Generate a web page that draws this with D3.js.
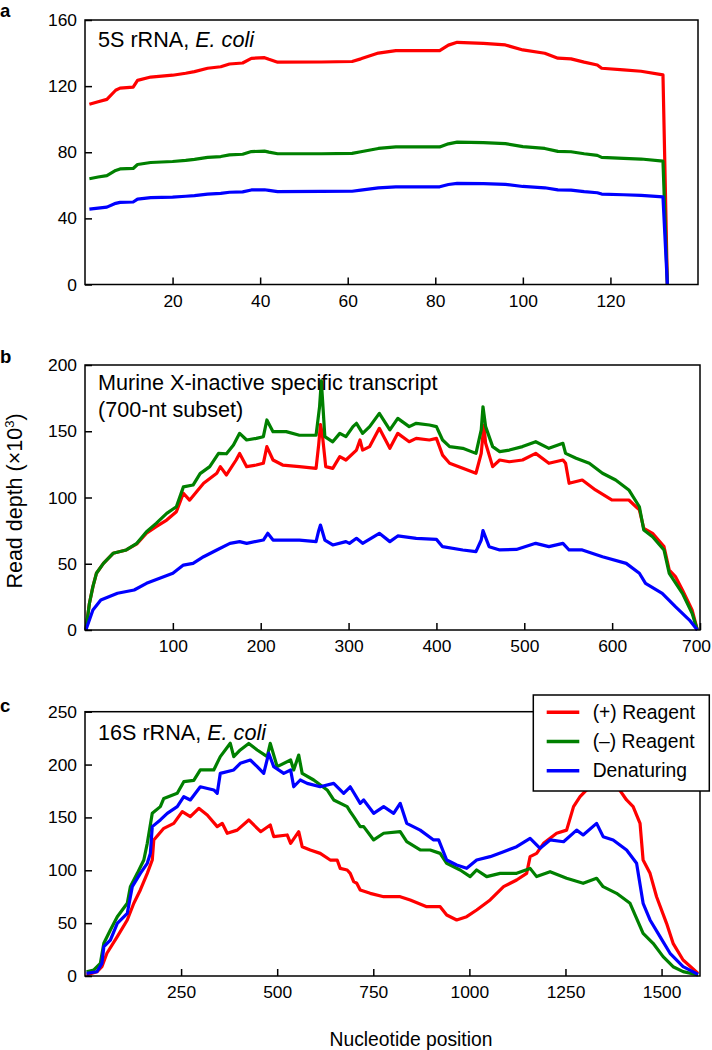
<!DOCTYPE html>
<html><head><meta charset="utf-8">
<script src="https://cdn.jsdelivr.net/npm/d3@7"></script>
<style>
html,body{margin:0;padding:0;background:#fff;}
text{font-family:"Liberation Sans",Arial,sans-serif;fill:#000;}
</style></head>
<body>
<svg id="chart" width="712" height="1050"></svg>
<script>
// ---------- DATA ----------
const seriesNames = ["(+) Reagent", "(\u2013) Reagent", "Denaturing"];
const seriesColors = ["#ff0000", "#008000", "#0000ff"];

// Panel a: 5S rRNA, E. coli
const aX = [1,3,5,7,8,11,12,15,20,23,25,28,31,33,36,38,41,42,44,54,61,63,67,71,81,83,85,91,96,100,105,108,111,114,117,118,123,127,132,133];
const aPlus = [109,110.5,112,117.5,118.8,119.4,123.5,125.5,126.6,127.8,128.8,130.8,131.7,133.4,134,136.8,137.2,136.2,134.5,134.6,134.9,136.5,140,141.5,141.5,144.8,146.5,145.9,144.9,141.9,139.9,136.9,136.5,134.5,132.8,130.8,129.8,129,126.8,0];
const aMinus = [64,65,65.9,69,69.9,70.2,72.6,73.8,74.4,75.1,75.7,76.9,77.4,78.4,78.8,80.4,80.7,80.1,79.1,79.1,79.3,80.3,82.3,83.2,83.2,85.1,86.1,85.8,85.2,83.4,82.3,80.5,80.3,79.1,78.1,76.9,76.3,75.9,74.6,0];
const aDen = [45.6,46.2,46.8,49.1,49.7,49.9,51.6,52.5,52.9,53.4,53.8,54.7,55.1,55.8,56,57.2,57.3,56.9,56.2,56.3,56.4,57.1,58.5,59.1,59.1,60.5,61.2,61,60.6,59.3,58.5,57.2,57.1,56.2,55.5,54.7,54.3,53.9,53,0];
const aXTicks = [20,40,60,80,100,120];
const aYTicks = [0,40,80,120,160];

// Panel b: Murine Xist (700-nt subset)
const bPlus = [[1,0],[5,20],[9,32.7],[13,42.8],[21,50.3],[32,57.9],[47,60.4],[59,65],[70,73],[81,78],[93,83],[104,89.3],[112,103.2],[119,98],[127,104.4],[135,110.7],[150,118.3],[154,123.3],[161,117],[172,128.3],[176,133.3],[184,123.3],[195,124.5],[203,125.8],[207,138.4],[214,128.3],[225,124.5],[244,123.3],[263,122],[266,140],[268,155],[270,148.4],[274,123.3],[282,122],[290,130.8],[297,128.3],[309,135.8],[313,143.4],[316,135.8],[324,138.4],[335,152.2],[347,137.1],[356,148.4],[369,142.1],[377,144.6],[392,143.4],[400,144.6],[407,132],[415,125.8],[430,122],[445,118.3],[451,133.3],[454,154.7],[456,140.9],[464,123.3],[472,128.3],[483,127],[498,128.3],[513,133.3],[528,125.8],[544,128.3],[547,125.8],[551,110.7],[566,113.2],[581,105.7],[600,98.1],[619,98.1],[631,90.6],[636,76.7],[646,73],[659,62.9],[665,45.3],[672,40.3],[680,30.2],[691,15.1],[697,0]];
const bMinus = [[1,0],[5,20],[9,32.7],[13,42.8],[21,50.3],[32,57.9],[47,60.4],[59,65.4],[70,74.2],[81,80.5],[93,88],[104,93],[112,108],[123,109.4],[131,118],[142,123.3],[152,133.3],[161,133],[169,139.6],[176,148.4],[184,143.4],[195,144.6],[203,145.9],[207,158.5],[214,149.7],[229,149.7],[244,147],[263,147],[267,168.6],[269,188],[273,145.9],[282,142],[290,148.4],[297,145.9],[305,153.5],[309,156],[316,148.4],[324,153.5],[335,163.5],[347,151],[356,159.7],[369,153.5],[377,156],[392,154.7],[400,153.5],[407,143.4],[415,138.4],[430,137.1],[445,133.3],[451,151],[453,168.5],[456,153.5],[464,138.4],[472,134.6],[483,135.8],[498,138.4],[513,142.1],[528,137.1],[544,140.9],[547,133.3],[559,129.6],[574,125.8],[589,118.3],[604,113.2],[619,105.7],[631,93],[636,75.5],[646,70.4],[659,60.4],[665,42.8],[680,27.7],[691,12.6],[697,0]];
const bDen = [[1,0],[9,15.1],[18,22.6],[37,27.7],[56,30.2],[70,35.2],[85,39],[100,42.8],[112,49],[123,50.3],[135,55.3],[150,60.4],[165,65.4],[176,66.7],[184,65.4],[203,67.9],[208,73],[214,67.9],[244,67.9],[263,66.7],[266,75],[268,79.2],[273,67.9],[282,64.2],[297,66.7],[301,65.4],[309,69.2],[316,65.4],[335,73],[347,66.7],[356,71],[377,69.2],[400,68.4],[407,62.9],[430,60.4],[445,59.1],[451,67.9],[453,75],[460,62.9],[472,60.4],[491,60.8],[513,65.4],[528,62.9],[544,65.4],[551,60.4],[566,60.4],[589,55.3],[616,50.3],[631,42.8],[638,35.2],[657,27.7],[672,17.6],[688,7.5],[697,0]];
const bXTicks = [100,200,300,400,500,600,700];
const bYTicks = [0,50,100,150,200];

// Panel c: 16S rRNA, E. coli
const cPlus = [[4,0.9],[31,4],[44,8.8],[57,21.5],[84,37.2],[110,53],[127,68.8],[144,81.4],[162,97.1],[175,109.7],[179,128.7],[205,139.7],[231,144.4],[253,155.5],[274,150.7],[296,158.6],[318,152.3],[344,141.3],[357,144.4],[370,135],[396,138],[426,147.6],[457,136.5],[482,142.8],[491,131.8],[526,133.4],[535,125.5],[556,136.5],[565,122.3],[586,119.2],[612,116],[638,109.7],[656,109.7],[664,101.8],[682,100.3],[690,97.1],[699,89.2],[707,87.7],[716,81.4],[742,78.2],[777,75],[820,75],[846,71.9],[889,65.6],[924,65.6],[941,57.7],[967,53],[993,56.1],[1019,62.4],[1054,71.9],[1089,84.5],[1123,90.8],[1149,97.1],[1158,112.9],[1175,116],[1193,125.5],[1227,135],[1253,138],[1271,160.2],[1288,169.6],[1305,176],[1340,182],[1383,180],[1409,166.5],[1426,160.2],[1444,144.4],[1452,109.7],[1470,97.1],[1487,75],[1513,49.8],[1530,30.9],[1556,15.1],[1595,2.5]];
const cMinus = [[4,4],[23,5.7],[40,12],[49,31],[66,43.5],[84,56],[110,68.8],[118,84.5],[136,97.1],[153,109.7],[162,125.5],[175,153.9],[196,160.2],[205,168],[240,172.8],[257,183.8],[283,185],[300,194.9],[335,194.9],[352,207.5],[378,220.1],[387,207.5],[404,213.8],[426,220],[448,213.8],[474,207.5],[482,220],[500,198],[535,204.3],[543,194.9],[556,209],[565,191.7],[595,185.4],[630,176],[647,166.5],[682,160.2],[690,155.5],[699,150.7],[716,141.3],[725,141.3],[751,128.7],[777,135],[820,136.6],[837,127],[872,119.2],[898,119.2],[924,116],[941,106.6],[976,100.3],[1002,94],[1019,100.3],[1045,94],[1080,97.1],[1123,97.1],[1158,101.8],[1175,94],[1210,98.7],[1253,92.4],[1296,87.7],[1331,92.4],[1348,84.5],[1383,78.2],[1418,68.8],[1452,40.4],[1478,30.9],[1504,18.3],[1530,8.8],[1556,4.1],[1595,1]];
const cDen = [[4,2.5],[31,4],[44,12],[49,27.7],[66,34],[84,49.8],[110,59.3],[123,84.5],[144,97.1],[162,106.6],[170,116],[175,141.3],[196,147.6],[214,153.9],[240,160.2],[257,169.6],[274,166.5],[300,179],[335,176],[344,172.8],[352,191.7],[387,194.9],[404,201.2],[430,204.3],[448,198],[465,191.7],[478,210.7],[491,198],[517,191.7],[535,194.9],[543,179],[560,185.4],[578,182.2],[612,179],[647,182.2],[673,172.8],[690,179],[716,163.3],[725,166.5],[751,153.9],[777,160.2],[803,153.9],[820,163.3],[837,144.4],[872,138],[907,128.7],[920,128.7],[941,109.7],[967,105],[993,101.9],[1019,109.7],[1054,112.9],[1089,117.6],[1123,122.3],[1158,130.2],[1184,120.8],[1210,128.7],[1245,127],[1279,138],[1296,133.4],[1331,144.4],[1348,131.8],[1374,128.7],[1409,119.2],[1435,106.6],[1452,68.8],[1470,53],[1496,37.2],[1522,21.5],[1556,8.8],[1595,1.5]];
const cXTicks = [250,500,750,1000,1250,1500];
const cYTicks = [0,50,100,150,200,250];

// ---------- DRAW ----------
const svg = d3.select("#chart");
const FONT = "Liberation Sans, Arial, sans-serif";

function panel(opts) {
  const {left, right, top, bottom, xDomain, yDomain, xTicks, yTicks, series, letter, letterY, titleLines, titleY} = opts;
  const x = d3.scaleLinear().domain(xDomain).range([left, right]);
  const y = d3.scaleLinear().domain(yDomain).range([bottom, top]);
  const g = svg.append("g");

  const line = d3.line().x(d => x(d[0])).y(d => y(d[1]));
  series.forEach((s, i) => {
    g.append("path").datum(s).attr("d", line)
      .attr("fill", "none").attr("stroke", seriesColors[i])
      .attr("stroke-width", 3.2).attr("stroke-linejoin", "round");
  });

  const ya = g.append("g").attr("transform", `translate(${left},0)`)
    .call(d3.axisLeft(y).tickValues(yTicks).tickFormat(d3.format("d")).tickSize(-7).tickPadding(8));
  const xa = g.append("g").attr("transform", `translate(0,${bottom})`)
    .call(d3.axisBottom(x).tickValues(xTicks).tickFormat(d3.format("d")).tickSize(-7).tickPadding(10));
  [ya, xa].forEach(a => {
    a.select(".domain").remove();
    a.selectAll(".tick line").attr("stroke", "#000").attr("stroke-width", 1.5);
    a.selectAll(".tick text").attr("font-size", 17.4).attr("font-family", FONT).attr("fill", "#000");
  });
  // keep a label that sits on the right frame edge inside the page
  xa.selectAll(".tick text").filter(d => x(d) + 15 > 712).attr("dx", -4);

  g.append("rect").attr("x", left).attr("y", top)
    .attr("width", right - left).attr("height", bottom - top)
    .attr("fill", "none").attr("stroke", "#000").attr("stroke-width", 1.5);

  svg.append("text").attr("x", 0).attr("y", letterY)
    .attr("font-size", 18.5).attr("font-weight", "bold").text(letter);

  titleLines.forEach((ln, i) => {
    const t = svg.append("text").attr("x", left + 13).attr("y", titleY + i * 27).attr("font-size", 21.6);
    ln.forEach(part => {
      t.append("tspan").attr("font-style", part.italic ? "italic" : "normal").text(part.t);
    });
  });
  return {x, y};
}

panel({
  left: 85, right: 698, top: 20, bottom: 284.5,
  xDomain: [0, 140], yDomain: [0, 160], xTicks: aXTicks, yTicks: aYTicks,
  series: [aX.map((v, i) => [v, aPlus[i]]), aX.map((v, i) => [v, aMinus[i]]), aX.map((v, i) => [v, aDen[i]])],
  letter: "a", letterY: 17,
  titleLines: [[{t: "5S rRNA, "}, {t: "E. coli", italic: true}]], titleY: 46.5
});

panel({
  left: 85, right: 700, top: 365, bottom: 630,
  xDomain: [0, 700], yDomain: [0, 200], xTicks: bXTicks, yTicks: bYTicks,
  series: [bPlus, bMinus, bDen],
  letter: "b", letterY: 363,
  titleLines: [[{t: "Murine X-inactive specific transcript"}], [{t: "(700-nt subset)"}]], titleY: 390
});

panel({
  left: 85, right: 700, top: 711.7, bottom: 976,
  xDomain: [0, 1600], yDomain: [0, 250], xTicks: cXTicks, yTicks: cYTicks,
  series: [cPlus, cMinus, cDen],
  letter: "c", letterY: 712,
  titleLines: [[{t: "16S rRNA, "}, {t: "E. coli", italic: true}]], titleY: 740
});

// Y axis label
const yl = svg.append("text").attr("transform", "translate(22,501) rotate(-90)")
  .attr("text-anchor", "middle").attr("font-size", 21.5);
yl.append("tspan").text("Read depth (\u00d710");
yl.append("tspan").attr("font-size", 13).attr("dy", -8).text("3");
yl.append("tspan").attr("dy", 8).text(")");

// X axis label
svg.append("text").attr("x", 411).attr("y", 1046).attr("text-anchor", "middle")
  .attr("font-size", 19.3).text("Nucleotide position");

// Legend
const lg = svg.append("g");
lg.append("rect").attr("x", 533.3).attr("y", 695).attr("width", 176).attr("height", 96)
  .attr("fill", "#fff").attr("stroke", "#000").attr("stroke-width", 1.5);
const legY = d3.scalePoint().domain(seriesNames).range([712.3, 770.7]);
seriesNames.forEach((n, i) => {
  lg.append("line").attr("x1", 546.7).attr("x2", 579.3).attr("y1", legY(n)).attr("y2", legY(n))
    .attr("stroke", seriesColors[i]).attr("stroke-width", 3.5);
  lg.append("text").attr("x", 592.7).attr("y", legY(n)).attr("dy", "0.35em")
    .attr("font-size", 19.3).text(n);
});
</script>
</body></html>
